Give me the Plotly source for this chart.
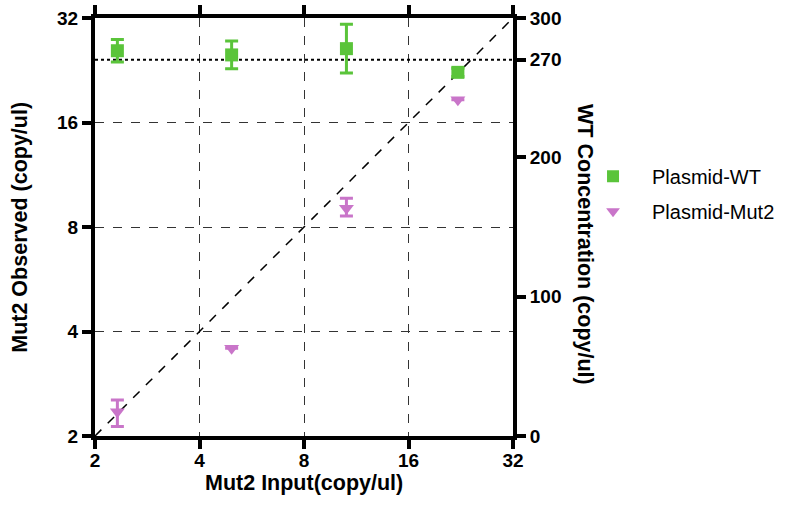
import plotly.graph_objects as go

# Data
x_input = [2.32, 4.95, 10.6, 22.2]
wt_conc = [276.5, 273.5, 278.0, 261.0]
wt_err_plus = [8.0, 10.0, 17.5, 3.0]
wt_err_minus = [8.0, 10.0, 17.5, 3.0]
mut2_obs = [2.35, 3.58, 9.06, 18.6]
mut2_err_plus = [0.19, 0.0, 0.62, 0.0]
mut2_err_minus = [0.22, 0.0, 0.46, 0.0]
log_ticks = [2, 4, 8, 16, 32]
wt_ticks = [0, 100, 200, 270, 300]
wt_ref = 270

GREEN = "#5AC43A"
PURPLE = "#C975C9"
FONT = "Arial, Liberation Sans, sans-serif"

fig = go.Figure()

# identity line
fig.add_trace(go.Scatter(x=[log_ticks[0], log_ticks[-1]], y=[log_ticks[0], log_ticks[-1]],
                         mode="lines", line=dict(color="black", width=1.5, dash="dash"),
                         showlegend=False, hoverinfo="skip"))
# reference dotted line at 270
fig.add_trace(go.Scatter(x=[log_ticks[0], log_ticks[-1]], y=[wt_ref, wt_ref], yaxis="y2",
                         mode="lines", line=dict(color="black", width=2, dash="dot"),
                         showlegend=False, hoverinfo="skip"))

fig.add_trace(go.Scatter(x=x_input, y=wt_conc, yaxis="y2", mode="markers", name="Plasmid-WT",
                         legendgroup="wt",
                         marker=dict(symbol="square", size=13, color=GREEN),
                         error_y=dict(type="data", array=wt_err_plus, arrayminus=wt_err_minus,
                                      color=GREEN, thickness=3, width=6.5)))
fig.add_trace(go.Scatter(x=x_input, y=mut2_obs, mode="markers", name="Plasmid-Mut2",
                         legendgroup="mut2",
                         marker=dict(symbol="triangle-down", size=13, color=PURPLE),
                         error_y=dict(type="data", array=mut2_err_plus, arrayminus=mut2_err_minus,
                                      color=PURPLE, thickness=3, width=6.5)))

tickfont = dict(family=FONT, size=19, color="black", weight="bold")
titlefont = dict(family=FONT, size=21.5, color="black", weight="bold")

common = dict(showline=True, linecolor="black", linewidth=4,
              ticks="outside", ticklen=9, tickwidth=4, tickcolor="black",
              zeroline=False, tickfont=tickfont, automargin=False)

fig.update_layout(
    width=794, height=513,
    margin=dict(l=95, r=281, t=18, b=77, autoexpand=False),
    plot_bgcolor="white", paper_bgcolor="white",
    font=dict(family=FONT, color="black"),
    xaxis=dict(type="log", range=[0.30103, 1.50515], tickvals=log_ticks,
               ticktext=[str(v) for v in log_ticks], mirror="ticks", ticklabelstandoff=-5,
               showgrid=True, gridcolor="#333", gridwidth=1.2, griddash="dash", **common),
    yaxis=dict(type="log", range=[0.30103, 1.50515], tickvals=log_ticks,
               ticktext=[str(v) for v in log_ticks],
               showgrid=True, gridcolor="#333", gridwidth=1.2, griddash="dash", **common),
    yaxis2=dict(overlaying="y", side="right", range=[0, 300], tickvals=wt_ticks,
                showgrid=False, **common),
    legend=dict(x=1.146, y=0.668, xanchor="left", yanchor="top",
                font=dict(family=FONT, size=20, color="black"), itemsizing="constant",
                itemwidth=68, traceorder="grouped",
                tracegroupgap=6, bgcolor="rgba(0,0,0,0)"),
    showlegend=True,
)

fig.add_annotation(text="Mut2 Observed (copy/ul)", xref="paper", yref="paper",
                   x=-0.18, y=0.5, xanchor="center", yanchor="middle",
                   textangle=-90, showarrow=False, font=titlefont)
fig.add_annotation(text="Mut2 Input(copy/ul)", xref="paper", yref="paper",
                   x=0.5, y=-0.112, xanchor="center", yanchor="middle",
                   showarrow=False, font=titlefont)
fig.add_annotation(text="WT Concentration (copy/ul)", xref="paper", yref="paper",
                   x=1.172, y=0.457, xanchor="center", yanchor="middle",
                   textangle=90, showarrow=False, font=titlefont)

fig.write_html("out.html")
